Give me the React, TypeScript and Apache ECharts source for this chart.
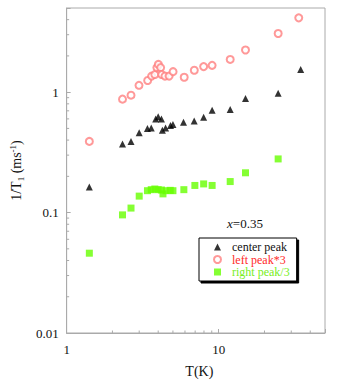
import React, { useEffect, useRef } from "react";
import * as echarts from "echarts";

// Temperatures (K) and relaxation rates
const centerT = [1.41, 2.33, 2.65, 3.0, 3.4, 3.6, 3.85, 4.0, 4.2, 4.26, 4.47, 4.82, 5.0, 5.87, 6.9, 7.96, 9.05, 11.9, 15.0, 24.6, 34.6];
const centerV = [0.163, 0.371, 0.39, 0.46, 0.5, 0.505, 0.6, 0.624, 0.6, 0.482, 0.505, 0.528, 0.538, 0.562, 0.575, 0.619, 0.708, 0.718, 0.886, 0.98, 1.54];

const leftT = [1.41, 2.33, 2.65, 2.99, 3.41, 3.62, 3.8, 3.92, 4.01, 4.15, 4.22, 4.43, 4.72, 5.01, 5.93, 6.91, 7.96, 9.05, 11.9, 15.0, 24.6, 33.6];
const leftV = [0.39, 0.875, 0.944, 1.14, 1.25, 1.36, 1.4, 1.6, 1.7, 1.6, 1.4, 1.36, 1.36, 1.48, 1.33, 1.52, 1.63, 1.67, 1.87, 2.24, 3.07, 4.14];

const rightT = [1.41, 2.33, 2.65, 3.0, 3.4, 3.6, 3.8, 4.0, 4.2, 4.3, 4.5, 4.8, 5.0, 5.9, 6.97, 7.96, 9.05, 11.9, 15.0, 24.6];
const rightV = [0.046, 0.0957, 0.109, 0.137, 0.152, 0.155, 0.157, 0.155, 0.154, 0.143, 0.152, 0.153, 0.152, 0.155, 0.168, 0.173, 0.168, 0.181, 0.214, 0.279];

const seriesNames = ["center peak", "left peak*3", "right peak/3"];

const xTickLabels = ["1", "10"];
const yTickLabels = ["0.01", "0.1", "1"];
const xMinorTicks = [2, 3, 4, 5, 6, 7, 8, 9, 20, 30, 40];
const yMinorTicks = [0.02, 0.03, 0.04, 0.05, 0.06, 0.07, 0.08, 0.09, 0.2, 0.3, 0.4, 0.5, 0.6, 0.7, 0.8, 0.9, 2, 3, 4];

const X_MIN = 1, X_MAX = 50, Y_MIN = 0.01, Y_MAX = 5;

const FONT = "Liberation Serif";
const AXIS_COLOR = "#aaaaaa";

function pickLabel(v: number, labels: string[]) {
  for (const l of labels) {
    if (Math.abs(Math.log10(v) - Math.log10(parseFloat(l))) < 1e-6) return l;
  }
  return "";
}

export default function App() {
  const ref = useRef<HTMLDivElement>(null);
  useEffect(() => {
    if (!ref.current) return;
    document.body.style.margin = "0";
    const chart = echarts.init(ref.current, null, { renderer: "svg" });
    const zip = (a: number[], b: number[]) => a.map((t, i) => [t, b[i]]);
    const legendText = (color: string) => ({
      color, fontFamily: FONT, fontSize: 12, lineHeight: 12, padding: [0, 0, 0, 6],
    });
    chart.setOption({
      animation: false,
      backgroundColor: "#ffffff",
      textStyle: { fontFamily: FONT },
      grid: {
        left: 62, right: 33, top: 8, bottom: 55,
        show: true, borderColor: AXIS_COLOR, borderWidth: 1, backgroundColor: "transparent",
      },
      xAxis: {
        type: "log", logBase: 10, min: X_MIN, max: X_MAX,
        name: "T(K)", nameLocation: "middle", nameGap: 31,
        nameTextStyle: { fontFamily: FONT, fontSize: 14, color: "#111", padding: [0, 0, 0, 7] },
        axisLine: { show: true, lineStyle: { color: AXIS_COLOR, width: 1 } },
        axisTick: { show: true, inside: true, length: 4, lineStyle: { color: AXIS_COLOR } },
        axisLabel: {
          margin: 10, fontFamily: FONT, fontSize: 13, color: "#111",
          formatter: (v: number) => pickLabel(v, xTickLabels),
        },
        splitLine: { show: false },
        minorTick: { show: false },
      },
      yAxis: {
        type: "log", logBase: 10, min: Y_MIN, max: Y_MAX,
        name: "1/T{sub|1} (ms{sup|-1})", nameLocation: "middle", nameRotate: 90, nameGap: 28,
        nameTextStyle: {
          fontFamily: FONT, fontSize: 14, color: "#111",
          rich: {
            sub: { fontFamily: FONT, fontSize: 9, color: "#111", padding: [8, 0, 0, 0] },
            sup: { fontFamily: FONT, fontSize: 9, color: "#111", padding: [0, 0, 8, 0] },
          },
        },
        axisLine: { show: true, lineStyle: { color: AXIS_COLOR, width: 1 } },
        axisTick: { show: true, inside: true, length: 4, lineStyle: { color: AXIS_COLOR } },
        axisLabel: {
          margin: 8, fontFamily: FONT, fontSize: 13, color: "#111",
          formatter: (v: number) => pickLabel(v, yTickLabels),
        },
        splitLine: { show: false },
      },
      legend: {
        orient: "vertical",
        left: 199, top: 238,
        data: [
          { name: seriesNames[0], textStyle: legendText("#111111") },
          { name: seriesNames[1], textStyle: legendText("#ff2a2a") },
          { name: seriesNames[2], textStyle: legendText("#77ee22") },
        ],
        itemWidth: 7, itemHeight: 7, itemGap: 0.5,
        padding: [3, 7, 3, 14],
        borderColor: "#000", borderWidth: 1, borderRadius: 0,
        backgroundColor: "#ffffff",
        shadowColor: "#000000", shadowBlur: 0, shadowOffsetX: 2, shadowOffsetY: 2,
        textStyle: legendText("#111111"),
        selectedMode: false,
      },
      graphic: [
        {
          type: "text", x: 245, y: 223,
          style: {
            text: "{i|x}=0.35", textAlign: "center", textVerticalAlign: "middle",
            font: `13px "${FONT}"`, fill: "#111",
            rich: { i: { fontStyle: "italic", fontFamily: FONT, fontSize: 13, fill: "#111" } },
          },
        },
      ],
      series: [
        {
          name: seriesNames[0], type: "scatter", data: zip(centerT, centerV),
          symbol: "triangle", symbolSize: 7, itemStyle: { color: "#000000" }, z: 4,
        },
        {
          name: seriesNames[1], type: "scatter", data: zip(leftT, leftV),
          symbol: "emptyCircle", symbolSize: 7,
          itemStyle: { color: "#ff8080", borderColor: "#ff8080", borderWidth: 1 }, z: 3,
        },
        {
          name: seriesNames[2], type: "scatter", data: zip(rightT, rightV),
          symbol: "rect", symbolSize: 7, itemStyle: { color: "#66ff00" }, z: 3,
        },
        {
          type: "custom", silent: true, z: 1,
          data: xMinorTicks.map((v) => [v, Y_MIN]),
          renderItem: (_p: any, api: any) => {
            const pt = api.coord([api.value(0), Y_MIN]);
            return {
              type: "line",
              shape: { x1: pt[0], y1: pt[1], x2: pt[0], y2: pt[1] - 2.5 },
              style: { stroke: AXIS_COLOR, lineWidth: 1 },
            };
          },
        },
        {
          type: "custom", silent: true, z: 1,
          data: yMinorTicks.map((v) => [X_MIN, v]),
          renderItem: (_p: any, api: any) => {
            const pt = api.coord([X_MIN, api.value(1)]);
            return {
              type: "line",
              shape: { x1: pt[0], y1: pt[1], x2: pt[0] + 2.5, y2: pt[1] },
              style: { stroke: AXIS_COLOR, lineWidth: 1 },
            };
          },
        },
      ],
    });
    return () => chart.dispose();
  }, []);
  return <div ref={ref} style={{ width: 358, height: 388 }} />;
}
